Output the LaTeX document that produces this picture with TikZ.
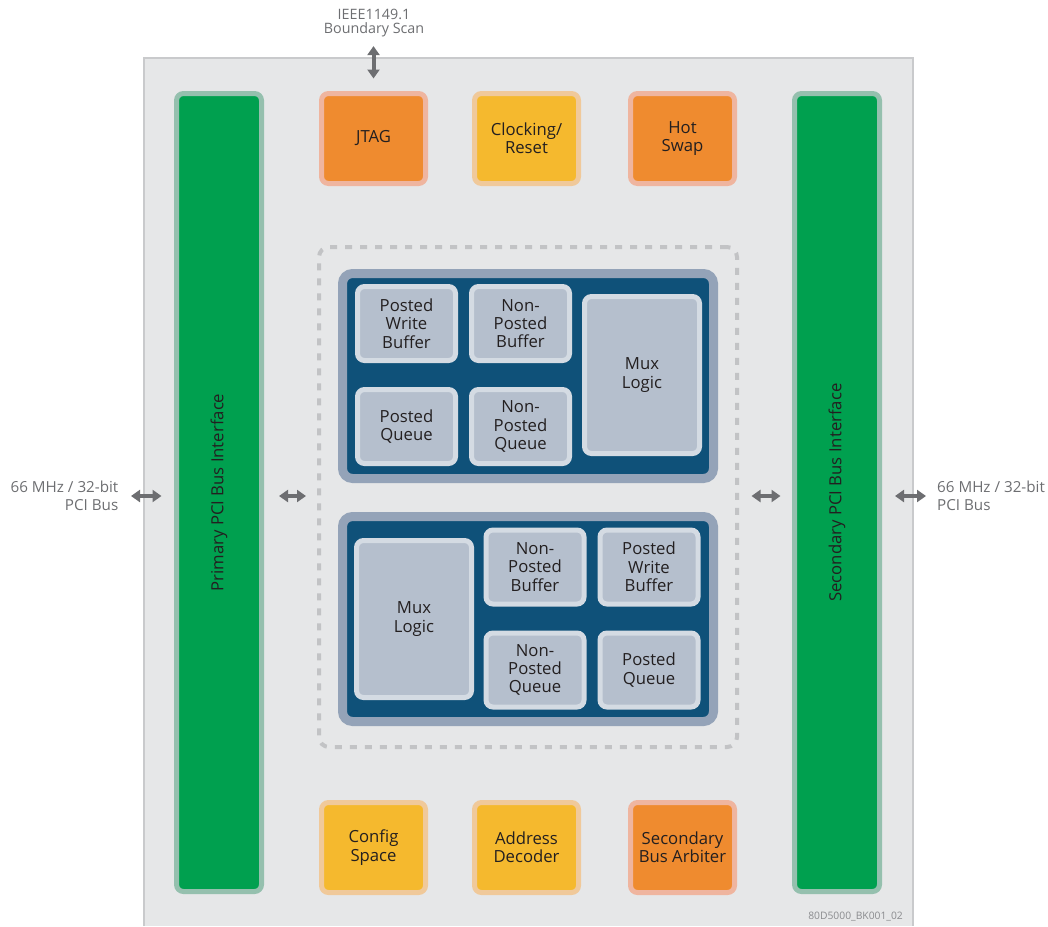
\documentclass[tikz,border=0pt]{standalone}
\usepackage{fontspec}
\setmainfont{Open Sans}
\usetikzlibrary{arrows.meta}

\definecolor{panel}{HTML}{E6E7E8}
\definecolor{panelline}{HTML}{C9CACC}
\definecolor{busgreen}{HTML}{00A04F}
\definecolor{busgreenline}{HTML}{95C0AE}
\definecolor{ctrlorange}{HTML}{EF8B2F}
\definecolor{ctrlorangeline}{HTML}{EFB59F}
\definecolor{ctrlyellow}{HTML}{F5B92E}
\definecolor{ctrlyellowline}{HTML}{F0C99A}
\definecolor{fifoframe}{HTML}{94A3B8}
\definecolor{fifonavy}{HTML}{0F5179}
\definecolor{cellfill}{HTML}{B5BFCD}
\definecolor{cellline}{HTML}{D4DBE3}
\definecolor{ink}{HTML}{231F20}
\definecolor{note}{HTML}{6D6E71}
\definecolor{zone}{HTML}{C2C3C5}

\tikzset{
  boxtext/.style={font=\fontsize{16.7}{18.3}\selectfont, text=ink, align=center},
  ctrl/.style={boxtext, rectangle, rounded corners=7pt, line width=5pt, inner sep=0pt,
               minimum width=104pt, minimum height=90pt},
  orangebox/.style={ctrl, fill=ctrlorange, draw=ctrlorangeline},
  yellowbox/.style={ctrl, fill=ctrlyellow, draw=ctrlyellowline},
  busbar/.style={rectangle, rounded corners=7pt, line width=5pt, fill=busgreen, draw=busgreenline,
                 inner sep=0pt, minimum width=85pt, minimum height=798pt},
  fifo/.style={rectangle, rounded corners=10pt, line width=9pt, fill=fifonavy, draw=fifoframe,
               inner sep=0pt, minimum width=371pt, minimum height=205pt},
  cell/.style={boxtext, rectangle, rounded corners=7pt, line width=5pt, fill=cellfill, draw=cellline,
               inner sep=0pt, minimum width=98pt, minimum height=74pt},
  muxcell/.style={cell, minimum width=115pt, minimum height=157pt},
  xferzone/.style={rectangle, rounded corners=10pt, draw=zone, line width=4pt,
                   dash pattern=on 7pt off 8pt, inner sep=0pt, minimum width=418pt, minimum height=500pt},
  lbl/.style={font=\fontsize{15.2}{18}\selectfont, text=note, inner sep=0pt},
  bus/.style={draw=note, line width=4pt, {Triangle[length=9pt,width=12pt]}-{Triangle[length=9pt,width=12pt]}}
}

\begin{document}
\begin{tikzpicture}[x=1pt,y=-1pt]
\useasboundingbox (0,0) rectangle (1048,926);

  % chip outline
  \fill[panel] (144,58) rectangle (913,926);
  \draw[panelline, line width=1.5pt] (144,926) -- (144,58) -- (913,58) -- (913,926);

  \node[busbar] (prim) at (219,492.5) {};
  \node[busbar] (sec)  at (837,492.5) {};
  \node[boxtext, rotate=90] (primtxt) at (prim) {Primary PCI Bus Interface};
  \node[boxtext, rotate=90] (sectxt)  at (sec)  {Secondary PCI Bus Interface};

  \node[orangebox] (jtag)  at (373.5,138.5) {JTAG};
  \node[yellowbox] (clock) at (526.5,138.5) {Clocking/\\Reset};
  \node[orangebox] (hot)   at (682.5,138.5) {Hot\\Swap};

  \node[yellowbox] (cfg)   at (373.5,847.5) {Config\\Space};
  \node[yellowbox] (addr)  at (526.5,847.5) {Address\\Decoder};
  \node[orangebox] (arb)   at (682.5,847.5) {Secondary\\Bus Arbiter};

  \node[xferzone] (xfer) at (528,497) {};

  % upper path
  \node[fifo] (upfifo) at (528,376) {};
  \node[cell] (uppwb) at (406.5,323.5) {Posted\\Write\\Buffer};
  \node[cell] (upnpb) at (520.5,323.5) {Non-\\Posted\\Buffer};
  \node[cell] (uppq)  at (406.5,426.5) {Posted\\Queue};
  \node[cell] (upnpq) at (520.5,426.5) {Non-\\Posted\\Queue};
  \node[muxcell] (upmux) at (642,375) {Mux\\Logic};

  % lower path
  \node[fifo] (lofifo) at (528,619) {};
  \node[muxcell] (lomux) at (414,619) {Mux\\Logic};
  \node[cell] (lonpb) at (535,567) {Non-\\Posted\\Buffer};
  \node[cell] (lonpq) at (535,670) {Non-\\Posted\\Queue};
  \node[cell] (lopwb) at (649,567) {Posted\\Write\\Buffer};
  \node[cell] (lopq)  at (649,670) {Posted\\Queue};

  \node[lbl, anchor=east, align=right] (pcil) at (118.5,496) {66 MHz / 32-bit\\PCI Bus};
  \node[lbl, anchor=west, align=left]  (pcir) at (937,496) {66 MHz / 32-bit\\PCI Bus};
  \node[lbl, font=\fontsize{14.3}{14}\selectfont, align=center] (scan) at (374,23) {IEEE1149.1\\Boundary Scan};
  \node[lbl, font=\fontsize{10.3}{11}\selectfont, text=note!80, anchor=east] (docid) at (903,917) {80D5000\_BK001\_02};

  \draw[bus, shorten <=12.5pt, shorten >=12.5pt] (pcil.east) -- (prim.west |- pcil.east);
  \draw[bus, shorten <=15pt, shorten >=11pt] (prim.east |- pcil.east) -- (xfer.west |- pcil.east);
  \draw[bus, shorten <=12.5pt, shorten >=11.5pt] (xfer.east |- pcir.west) -- (sec.west |- pcir.west);
  \draw[bus, shorten <=13pt, shorten >=11pt] (sec.east |- pcir.west) -- (pcir.west);
  \draw[bus, shorten <=9pt, shorten >=12.5pt] (jtag.north |- scan.south) -- (jtag.north);

\end{tikzpicture}
\end{document}
